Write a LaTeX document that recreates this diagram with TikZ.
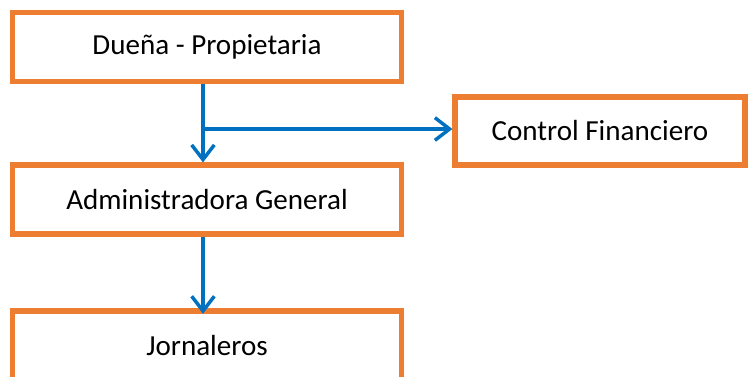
\documentclass[tikz,border=0pt]{standalone}
\usepackage{fontspec}
\setmainfont{Carlito}
\usetikzlibrary{arrows.meta}
\definecolor{boxorange}{RGB}{237,125,49}
\definecolor{linkblue}{RGB}{0,112,192}
\begin{document}
\begin{tikzpicture}[x=0.75pt,y=-0.75pt,
    box/.style={shape=rectangle,draw=boxorange,line width=3.9pt,fill=white,
        minimum width=291.5pt,minimum height=51.75pt,inner sep=0pt,
        font=\fontsize{21.8}{26}\selectfont},
    link/.style={draw=linkblue,line width=2.6pt,-{Straight Barb[length=11pt,width=17pt,line width=2.6pt]}}]
		        \useasboundingbox (0,0) rectangle (751,376);
		        \node[box] (D) at (207,47) {Dueña - Propietaria};
		        \node[box] (A) at (207,199.5) {Administradora General};
		        \node[box] (J) at (207,345.5) {Jornaleros};
		        \node[box,minimum width=217.5pt,minimum height=51pt] (C) at (600,131) {Control Financiero};
		        \coordinate (S) at (203,129);

		        \path[link] ([xshift=-3pt]D.south) -- ([xshift=-3pt]A.north);
		        \path[link] (S) -- (S -| C.west);
		        \path[link] ([xshift=-3pt]A.south) -- ([xshift=-3pt,yshift=-4pt]J.north);

	    	\end{tikzpicture}
\end{document}
